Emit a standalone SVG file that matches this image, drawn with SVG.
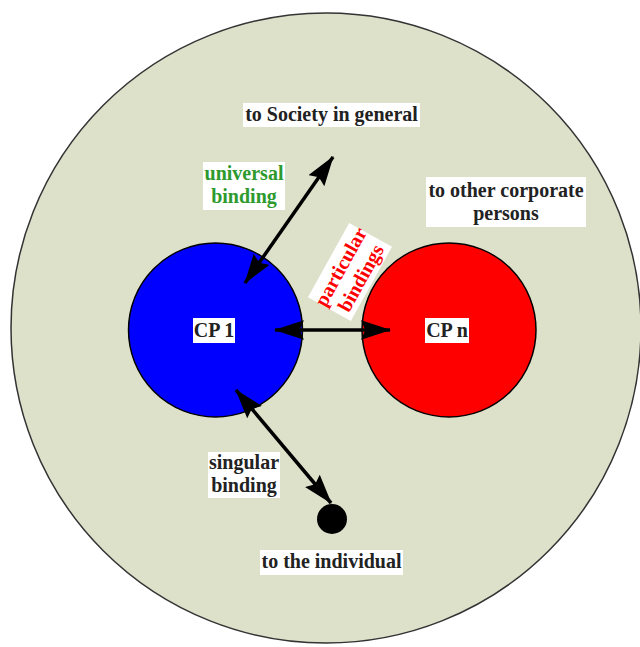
<svg xmlns="http://www.w3.org/2000/svg" width="640" height="647" viewBox="0 0 640 647">
<style>
.lbl{font-family:"Liberation Serif","Times New Roman",serif;font-weight:bold;font-size:20px;text-anchor:middle;fill:#222}
.box{fill:#fff}
.conn{stroke:#000;stroke-width:3.5;fill:none;marker-start:url(#ah);marker-end:url(#ah)}
</style>
<defs>
<marker id="ah" markerUnits="userSpaceOnUse" markerWidth="30" markerHeight="20" viewBox="0 0 28 18" refX="27" refY="9" orient="auto-start-reverse">
<path d="M0,0 L28,9 L0,18 L4,9 z" fill="#000"/>
</marker>
</defs>
<g id="society">
<circle cx="326" cy="328" r="315" fill="#dde1ca" stroke="#333" stroke-width="1.5"/>
</g>
<g id="cp1">
<circle cx="215.5" cy="330" r="87" fill="#0000ff" stroke="#000" stroke-width="1.5"/>
<rect class="box" x="193" y="318" width="42" height="25"/>
<text class="lbl" x="214" y="337">CP 1</text>
</g>
<g id="cpn">
<circle cx="449" cy="330" r="87" fill="#ff0000" stroke="#000" stroke-width="1.5"/>
<rect class="box" x="425" y="318" width="44" height="25"/>
<text class="lbl" x="447" y="337">CP n</text>
</g>
<g id="individual">
<circle cx="332" cy="519" r="15" fill="#000"/>
</g>
<g id="connectors">
<line class="conn" x1="275" y1="330" x2="390" y2="330"/>
<line class="conn" x1="245" y1="283" x2="333" y2="157"/>
<line class="conn" x1="236" y1="390" x2="331" y2="503"/>
</g>
<g id="label-society">
<rect class="box" x="243" y="103" width="177" height="24"/>
<text class="lbl" x="331.5" y="121">to Society in general</text>
</g>
<g id="label-universal">
<rect class="box" x="203" y="162" width="82" height="48"/>
<text class="lbl" x="244" y="180" style="fill:#2e9a2e">universal</text>
<text class="lbl" x="244" y="203" style="fill:#2e9a2e">binding</text>
</g>
<g id="label-corporate">
<rect class="box" x="426" y="177" width="160" height="50"/>
<text class="lbl" x="506" y="197">to other corporate</text>
<text class="lbl" x="506" y="220">persons</text>
</g>
<g id="label-particular" transform="translate(350,272) rotate(-61)">
<rect class="box" x="-42.5" y="-24.5" width="85" height="49"/>
<text class="lbl" x="0" y="-4" style="fill:#ff0000">particular</text>
<text class="lbl" x="0" y="19" style="fill:#ff0000">bindings</text>
</g>
<g id="label-singular">
<rect class="box" x="208" y="452" width="72" height="46"/>
<text class="lbl" x="244" y="469">singular</text>
<text class="lbl" x="244" y="492">binding</text>
</g>
<g id="label-individual">
<rect class="box" x="260" y="550" width="143" height="25"/>
<text class="lbl" x="331.5" y="568">to the individual</text>
</g>
</svg>
